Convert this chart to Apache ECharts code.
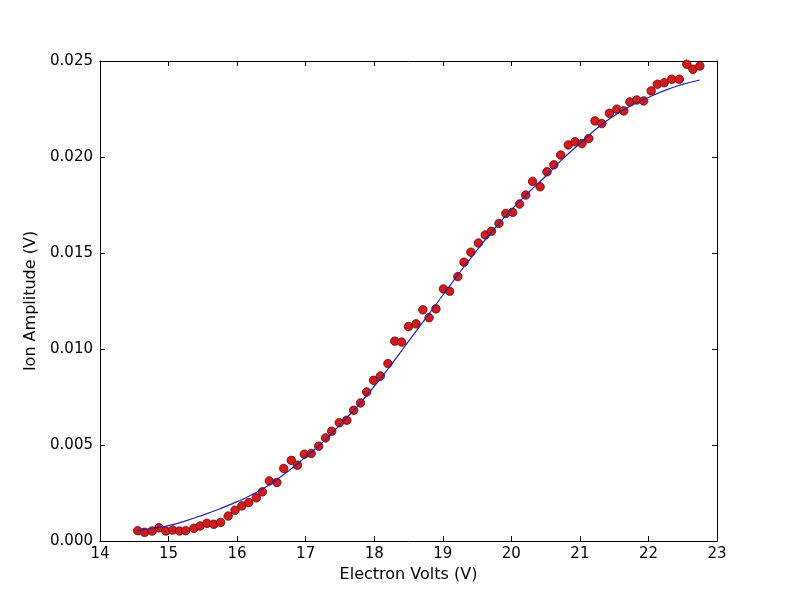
<!DOCTYPE html>
<html>
<head>
<meta charset="utf-8">
<title>index.html</title>
<script src="https://cdn.jsdelivr.net/npm/echarts@6/dist/echarts.min.js"></script>
<style>
    html, body { margin: 0; padding: 0; background: #fff; }
    #main { width: 795px; height: 600px; }
</style>
</head>
<body>
<div id="main"></div>
<script type="text/javascript">
    // measured points (electron volts, ion amplitude)
    var measVolts = [
        14.55, 14.65, 14.76, 14.86, 14.96, 15.06, 15.16, 15.25, 15.37, 15.46,
        15.56, 15.66, 15.76, 15.87, 15.97, 16.07, 16.17, 16.28, 16.37, 16.47,
        16.58, 16.68, 16.79, 16.88, 16.98, 17.08, 17.19, 17.29, 17.38, 17.49,
        17.60, 17.70, 17.80, 17.89, 17.99, 18.09, 18.20, 18.30, 18.40, 18.50,
        18.61, 18.71, 18.80, 18.90, 19.01, 19.10, 19.22, 19.31, 19.41, 19.52,
        19.62, 19.71, 19.82, 19.92, 20.02, 20.12, 20.21, 20.31, 20.42, 20.52,
        20.62, 20.72, 20.83, 20.93, 21.03, 21.13, 21.22, 21.32, 21.43, 21.54,
        21.64, 21.73, 21.83, 21.93, 22.04, 22.13, 22.23, 22.34, 22.45, 22.56,
        22.65, 22.75
    ];
    var measAmp = [
        0.00054, 0.00045, 0.00052, 0.00069, 0.00052, 0.00057, 0.00052, 0.00054, 0.00066, 0.00078,
        0.00092, 0.00087, 0.00097, 0.00130, 0.00160, 0.00183, 0.00200, 0.00225, 0.00256, 0.00313,
        0.00305, 0.00378, 0.00420, 0.00395, 0.00452, 0.00456, 0.00494, 0.00537, 0.00572, 0.00616,
        0.00629, 0.00681, 0.00719, 0.00776, 0.00837, 0.00859, 0.00924, 0.01041, 0.01036, 0.01117,
        0.01131, 0.01204, 0.01163, 0.01209, 0.01313, 0.01301, 0.01377, 0.01452, 0.01504, 0.01552,
        0.01594, 0.01613, 0.01654, 0.01706, 0.01712, 0.01755, 0.01802, 0.01873, 0.01845, 0.01923,
        0.01959, 0.02010, 0.02063, 0.02079, 0.02070, 0.02096, 0.02188, 0.02174, 0.02228, 0.02249,
        0.02240, 0.02287, 0.02297, 0.02292, 0.02344, 0.02379, 0.02387, 0.02405, 0.02405, 0.02483,
        0.02457, 0.02474
    ];

    // fitted curve
    var fitVolts = [
        14.55, 14.75, 15.00, 15.25, 15.50, 15.75, 16.00, 16.25, 16.50, 16.75,
        17.00, 17.25, 17.50, 17.75, 18.00, 18.25, 18.50, 18.75, 19.00, 19.25,
        19.50, 19.75, 20.00, 20.25, 20.50, 20.75, 21.00, 21.25, 21.50, 21.75,
        22.00, 22.25, 22.50, 22.75
    ];
    var fitAmp = [
        0.00055, 0.00065, 0.00080, 0.00105, 0.00135, 0.00168, 0.00205, 0.00247, 0.00300, 0.00365,
        0.00438, 0.00515, 0.00605, 0.00700, 0.00805, 0.00920, 0.01040, 0.01160, 0.01280, 0.01400,
        0.01515, 0.01625, 0.01725, 0.01815, 0.01900, 0.01990, 0.02070, 0.02150, 0.02215, 0.02268,
        0.02310, 0.02348, 0.02378, 0.02401
    ];

    var xTicks = { min: 14, max: 23, interval: 1 };
    var yTicks = { min: 0, max: 0.025, interval: 0.005 };

    var font = 'DejaVu Sans';
    var tick = { show: true, inside: true, length: 5, lineStyle: { color: '#000', width: 1 } };
    var line = { show: true, onZero: false, lineStyle: { color: '#000', width: 1 } };

    var myChart = echarts.init(document.getElementById('main'));
    myChart.setOption({
        animation: false,
        textStyle: { fontFamily: font },
        grid: { left: 100, right: 78, top: 61, bottom: 59 },
        xAxis: [{
            type: 'value',
            min: xTicks.min, max: xTicks.max, interval: xTicks.interval,
            name: 'Electron Volts (V)',
            nameLocation: 'middle',
            nameGap: 26,
            nameTextStyle: { fontSize: 16, color: '#000', fontFamily: font },
            axisLine: line,
            axisTick: tick,
            axisLabel: { fontSize: 15, color: '#000', margin: 6, fontFamily: font },
            splitLine: { show: false }
        }, {
            type: 'value', position: 'top',
            min: xTicks.min, max: xTicks.max, interval: xTicks.interval,
            axisLine: line, axisTick: tick,
            axisLabel: { show: false }, splitLine: { show: false }
        }],
        yAxis: [{
            type: 'value',
            min: yTicks.min, max: yTicks.max, interval: yTicks.interval,
            name: 'Ion Amplitude (V)',
            nameLocation: 'middle',
            nameGap: 60,
            nameTextStyle: { fontSize: 16, color: '#000', fontFamily: font },
            axisLine: line,
            axisTick: tick,
            axisLabel: {
                fontSize: 15, color: '#000', margin: 7, fontFamily: font,
                formatter: function (v) { return v.toFixed(3); }
            },
            splitLine: { show: false }
        }, {
            type: 'value', position: 'right',
            min: yTicks.min, max: yTicks.max, interval: yTicks.interval,
            axisLine: line, axisTick: tick,
            axisLabel: { show: false }, splitLine: { show: false }
        }],
        series: [{
            type: 'scatter',
            symbolSize: 8.5,
            itemStyle: { color: '#d41a1a', borderColor: '#5a0a0a', borderWidth: 0.8, opacity: 1 },
            z: 2,
            data: measVolts.map(function (v, i) { return [v, measAmp[i]]; })
        }, {
            type: 'line',
            symbol: 'none',
            smooth: true,
            lineStyle: { color: '#2222aa', width: 1.2 },
            z: 3,
            data: fitVolts.map(function (v, i) { return [v, fitAmp[i]]; })
        }]
    });
</script>
</body>
</html>
